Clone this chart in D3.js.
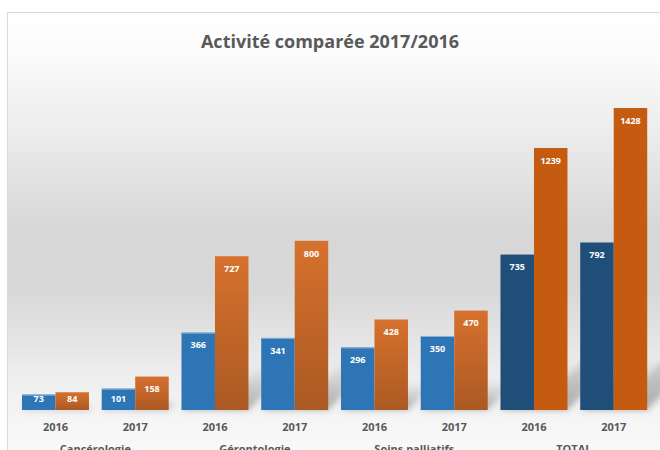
<!DOCTYPE html>
<html>
<head>
<meta charset="utf-8">
<script src="https://cdn.jsdelivr.net/npm/d3@7"></script>
<style>
  html, body { margin: 0; padding: 0; background: #fff; }
  svg { display: block; }
</style>
</head>
<body>
<div id="chart"></div>
<script>
// data
const categories = ["Cancérologie", "Gérontologie", "Soins palliatifs", "TOTAL"];
const years = ["2016", "2017"];
const blueValues = [73, 101, 366, 341, 296, 350, 735, 792];
const orangeValues = [84, 158, 727, 800, 428, 470, 1239, 1428];
const title = "Activité comparée 2017/2016";

const width = 660;
const height = 450;
const base = 410;

const groups = [];
categories.forEach(c => years.forEach(yr => groups.push({ id: c + " " + yr, cat: c, year: yr })));
groups.forEach((g, i) => { g.blue = blueValues[i]; g.orange = orangeValues[i]; g.total = g.cat === "TOTAL"; });

const svg = d3.select("#chart").append("svg")
  .attr("width", width)
  .attr("height", height);

const defs = svg.append("defs");

const bg = defs.append("linearGradient").attr("id", "bg")
  .attr("x1", 0).attr("y1", 0).attr("x2", 0).attr("y2", 1);
[[0, "#ffffff"], [0.1, "#fbfbfb"], [0.3, "#e9e9e9"], [0.48, "#d7d7d7"], [0.62, "#d8d8d8"],
 [0.8, "#ededed"], [0.9, "#f5f5f5"], [1, "#fafafa"]]
  .forEach(s => bg.append("stop").attr("offset", s[0]).attr("stop-color", s[1]));

const og = defs.append("linearGradient").attr("id", "orangeGrad")
  .attr("x1", 0).attr("y1", 0).attr("x2", 0).attr("y2", 1);
og.append("stop").attr("offset", 0).attr("stop-color", "#d6712d");
og.append("stop").attr("offset", 1).attr("stop-color", "#ab5923");

const sg = defs.append("linearGradient").attr("id", "shadowGrad")
  .attr("x1", 0).attr("y1", 1).attr("x2", 0).attr("y2", 0);
sg.append("stop").attr("offset", 0).attr("stop-color", "#6f6f6f").attr("stop-opacity", 0.55);
sg.append("stop").attr("offset", 1).attr("stop-color", "#6f6f6f").attr("stop-opacity", 0);

defs.append("filter").attr("id", "blur")
  .attr("x", "-30%").attr("y", "-30%").attr("width", "160%").attr("height", "160%")
  .append("feGaussianBlur").attr("stdDeviation", 3);

// chart area
svg.append("rect")
  .attr("x", 7.5).attr("y", 12.5)
  .attr("width", width).attr("height", height)
  .attr("fill", "url(#bg)")
  .attr("stroke", "#d9d9d9");

svg.append("text")
  .attr("x", 330).attr("y", 48)
  .attr("text-anchor", "middle")
  .style("font-family", "'Open Sans', sans-serif")
  .style("font-weight", "bold")
  .style("font-size", "18px")
  .style("fill", "#595959")
  .text(title);

const x = d3.scaleBand()
  .domain(groups.map(d => d.id))
  .range([15.6, 653.6])
  .paddingInner(0.16)
  .paddingOuter(0.08);

const xs = d3.scaleBand()
  .domain(["blue", "orange"])
  .range([0, x.bandwidth()]);

const xc = d3.scaleBand()
  .domain(categories)
  .range([15.6, 653.6]);

const y = d3.scaleLinear()
  .domain([0, d3.max(orangeValues)])
  .range([base, 108]);

const bars = [];
groups.forEach(g => {
  bars.push({ g: g, key: "blue", v: g.blue });
  bars.push({ g: g, key: "orange", v: g.orange });
});

const plot = svg.append("g");

// soft perspective shadows behind the bars
const k = 0.3;
plot.append("g").attr("filter", "url(#blur)")
  .selectAll("path").data(bars).enter().append("path")
  .attr("d", d => {
    const x0 = x(d.g.id) + xs(d.key), x1 = x0 + xs.bandwidth();
    const h = (base - y(d.v)) * k;
    return `M${x0},${base}L${x1},${base}L${x1 + h},${base - h}L${x0 + h},${base - h}Z`;
  })
  .attr("fill", "url(#shadowGrad)");

plot.selectAll("rect.bar").data(bars).enter().append("rect")
  .attr("class", "bar")
  .attr("x", d => x(d.g.id) + xs(d.key))
  .attr("y", d => y(d.v))
  .attr("width", xs.bandwidth())
  .attr("height", d => base - y(d.v))
  .attr("fill", d => d.key === "blue" ? (d.g.total ? "#1f4e79" : "#2e75b6")
                                      : (d.g.total ? "#c55a11" : "url(#orangeGrad)"));

// light top edge on blue bars
plot.selectAll("line.edge").data(bars.filter(d => d.key === "blue" && !d.g.total)).enter()
  .append("line")
  .attr("x1", d => x(d.g.id) + xs(d.key))
  .attr("x2", d => x(d.g.id) + xs(d.key) + xs.bandwidth())
  .attr("y1", d => y(d.v) + 0.5)
  .attr("y2", d => y(d.v) + 0.5)
  .attr("stroke", "#8fb4dc");

plot.selectAll("text.val").data(bars).enter().append("text")
  .attr("class", "val")
  .attr("x", d => x(d.g.id) + xs(d.key) + xs.bandwidth() / 2)
  .attr("y", d => Math.min(y(d.v) + 12.7, base - 11))
  .attr("dy", "0.35em")
  .attr("text-anchor", "middle")
  .style("font-family", "'Open Sans', sans-serif")
  .style("font-weight", "bold")
  .style("font-size", "9px")
  .style("fill", "#ffffff")
  .text(d => d.v);

// axes
const xAxis = svg.append("g")
  .attr("transform", `translate(0,${base})`)
  .call(d3.axisBottom(x).tickSize(0).tickPadding(13).tickFormat(id => groups.find(g => g.id === id).year));
xAxis.select(".domain").remove();
xAxis.selectAll("text")
  .style("font-family", "'Open Sans', sans-serif")
  .style("font-weight", "bold")
  .style("font-size", "11px")
  .style("fill", "#595959");

const cAxis = svg.append("g")
  .attr("transform", `translate(0,${base})`)
  .call(d3.axisBottom(xc).tickSize(0).tickPadding(35));
cAxis.select(".domain").remove();
cAxis.selectAll("text")
  .style("font-family", "'Open Sans', sans-serif")
  .style("font-weight", "bold")
  .style("font-size", "11px")
  .style("fill", "#595959");
</script>
</body>
</html>
